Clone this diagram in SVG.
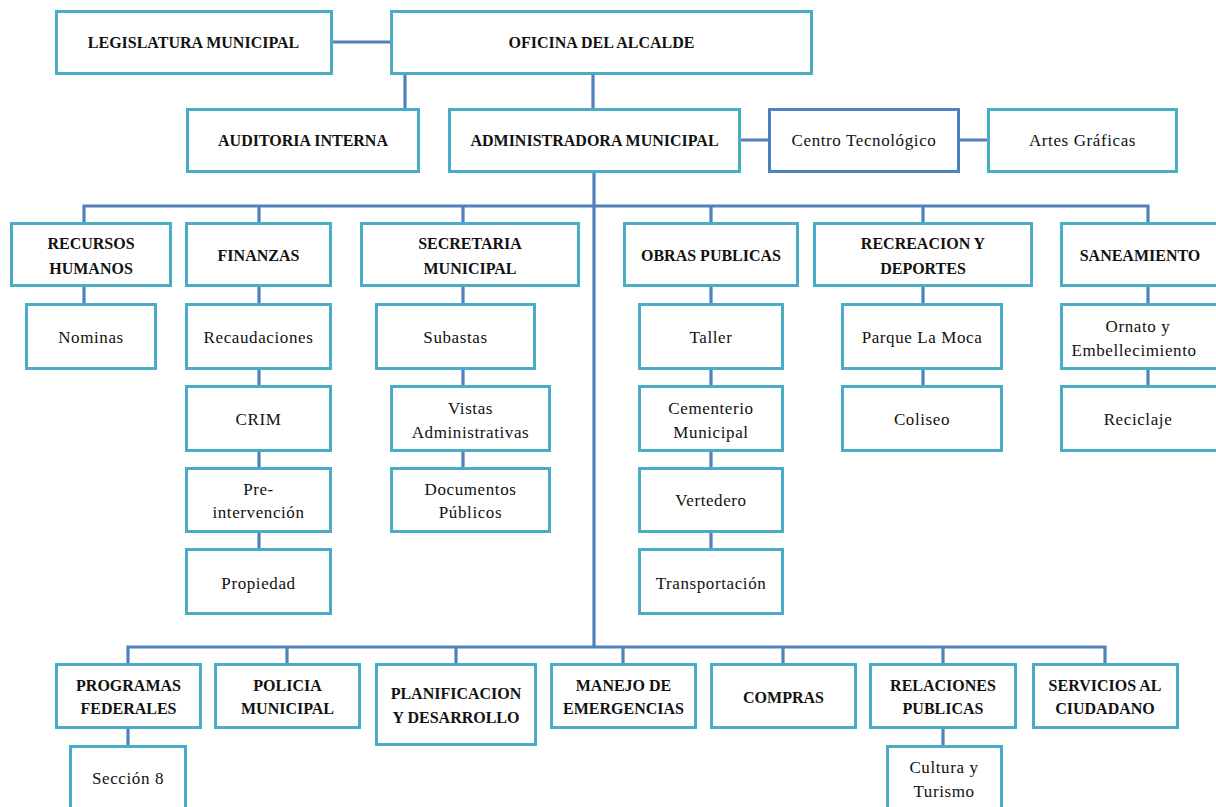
<svg xmlns="http://www.w3.org/2000/svg" width="1216" height="807" viewBox="0 0 1216 807">
<style>
rect{fill:#fff;stroke:#4BACC6;stroke-width:3}
rect.dk{stroke:#4F81BD}
.c path{fill:none;stroke:#4F81BD;stroke-width:3.2}
text{font-family:"Liberation Serif","DejaVu Serif",serif;fill:#111;text-anchor:middle;dominant-baseline:central}
.h{font-weight:bold;font-size:16px}
.r{font-size:17px;letter-spacing:0.6px}
</style>
<rect x="0" y="0" width="1216" height="807" style="fill:#fff;stroke:none"/>
<g class="c" id="connectors">
<path d="M332,42H390M405,75V108M593,75V108M741,140H768M960,140H987"/>
<path d="M594,173V647"/>
<path d="M84,222V206H1148V222M259,206V222M463,206V222M711,206V222M923,206V222"/>
<path d="M84,287V303M259,287V303M259,370V385M259,452V467M259,533V548"/>
<path d="M463,287V303M463,370V385M463,452V467"/>
<path d="M711,287V303M711,370V385M711,452V467M711,533V548"/>
<path d="M923,287V303M923,370V385M1148,287V303M1148,370V385"/>
<path d="M128,663V647H1105V663M287,647V663M456,647V663M623,647V663M783,647V663M943,647V663"/>
<path d="M128,729V745M943,729V745"/>
</g>
<g id="legislatura"><rect x="56.5" y="11.5" width="275" height="62"/><text class="h" x="193.5" y="42.5">LEGISLATURA MUNICIPAL</text></g>
<g id="oficina"><rect x="391.5" y="11.5" width="420" height="62"/><text class="h" x="601.5" y="42.5">OFICINA DEL ALCALDE</text></g>
<g id="auditoria"><rect x="187.5" y="109.5" width="231" height="62"/><text class="h" x="303" y="140.5">AUDITORIA INTERNA</text></g>
<g id="administradora"><rect x="449.5" y="109.5" width="290" height="62"/><text class="h" x="594.5" y="140.5">ADMINISTRADORA MUNICIPAL</text></g>
<g id="centro"><rect class="dk" x="769.5" y="109.5" width="189" height="62"/><text class="r" x="864" y="140.5">Centro Tecnológico</text></g>
<g id="artes"><rect x="988.5" y="109.5" width="188" height="62"/><text class="r" x="1082.5" y="140.5">Artes Gráficas</text></g>

<g id="rrhh"><rect x="11.5" y="223.5" width="159" height="62"/><text class="h" x="91" y="243">RECURSOS</text><text class="h" x="91" y="268">HUMANOS</text></g>
<g id="finanzas"><rect x="186.5" y="223.5" width="144" height="62"/><text class="h" x="258.5" y="255">FINANZAS</text></g>
<g id="secretaria"><rect x="361.5" y="223.5" width="217" height="62"/><text class="h" x="470" y="243">SECRETARIA</text><text class="h" x="470" y="268">MUNICIPAL</text></g>
<g id="obras"><rect x="624.5" y="223.5" width="173" height="62"/><text class="h" x="711" y="255">OBRAS PUBLICAS</text></g>
<g id="recreacion"><rect x="814.5" y="223.5" width="217" height="62"/><text class="h" x="923" y="243">RECREACION Y</text><text class="h" x="923" y="268">DEPORTES</text></g>
<g id="saneamiento"><rect x="1061.5" y="223.5" width="160" height="62"/><text class="h" x="1140" y="255">SANEAMIENTO</text></g>

<g id="nominas"><rect x="26.5" y="304.5" width="129" height="64"/><text class="r" x="91" y="337">Nominas</text></g>
<g id="recaudaciones"><rect x="186.5" y="304.5" width="144" height="64"/><text class="r" x="258.5" y="337">Recaudaciones</text></g>
<g id="crim"><rect x="186.5" y="386.5" width="144" height="64"/><text class="r" x="258.5" y="419">CRIM</text></g>
<g id="preintervencion"><rect x="186.5" y="468.5" width="144" height="63"/><text class="r" x="258.5" y="489">Pre-</text><text class="r" x="258.5" y="512">intervención</text></g>
<g id="propiedad"><rect x="186.5" y="549.5" width="144" height="64"/><text class="r" x="258.5" y="583">Propiedad</text></g>

<g id="subastas"><rect x="376.5" y="304.5" width="158" height="64"/><text class="r" x="455.5" y="337">Subastas</text></g>
<g id="vistas"><rect x="391.5" y="386.5" width="158" height="64"/><text class="r" x="470.5" y="408">Vistas</text><text class="r" x="470.5" y="432">Administrativas</text></g>
<g id="documentos"><rect x="391.5" y="468.5" width="158" height="63"/><text class="r" x="470.5" y="489">Documentos</text><text class="r" x="470.5" y="512">Públicos</text></g>

<g id="taller"><rect x="639.5" y="304.5" width="143" height="64"/><text class="r" x="711" y="337">Taller</text></g>
<g id="cementerio"><rect x="639.5" y="386.5" width="143" height="64"/><text class="r" x="711" y="408">Cementerio</text><text class="r" x="711" y="432">Municipal</text></g>
<g id="vertedero"><rect x="639.5" y="468.5" width="143" height="63"/><text class="r" x="711" y="500">Vertedero</text></g>
<g id="transportacion"><rect x="639.5" y="549.5" width="143" height="64"/><text class="r" x="711" y="583">Transportación</text></g>

<g id="parque"><rect x="842.5" y="304.5" width="159" height="64"/><text class="r" x="922" y="337">Parque La Moca</text></g>
<g id="coliseo"><rect x="842.5" y="386.5" width="159" height="64"/><text class="r" x="922" y="419">Coliseo</text></g>

<g id="ornato"><rect x="1061.5" y="304.5" width="160" height="64"/><text class="r" x="1138" y="326">Ornato y</text><text class="r" x="1134" y="350">Embellecimiento</text></g>
<g id="reciclaje"><rect x="1061.5" y="386.5" width="160" height="64"/><text class="r" x="1138" y="419">Reciclaje</text></g>

<g id="programas"><rect x="56.5" y="664.5" width="144" height="63"/><text class="h" x="128.5" y="685">PROGRAMAS</text><text class="h" x="128.5" y="708">FEDERALES</text></g>
<g id="seccion8"><rect x="70.5" y="746.5" width="115" height="70"/><text class="r" x="128" y="778">Sección 8</text></g>
<g id="policia"><rect x="215.5" y="664.5" width="144" height="63"/><text class="h" x="287.5" y="685">POLICIA</text><text class="h" x="287.5" y="708">MUNICIPAL</text></g>
<g id="planificacion"><rect x="376.5" y="664.5" width="159" height="80"/><text class="h" x="456" y="693">PLANIFICACION</text><text class="h" x="456" y="717">Y DESARROLLO</text></g>
<g id="manejo"><rect x="551.5" y="664.5" width="144" height="63"/><text class="h" x="623.5" y="685">MANEJO DE</text><text class="h" x="623.5" y="708">EMERGENCIAS</text></g>
<g id="compras"><rect x="711.5" y="664.5" width="144" height="63"/><text class="h" x="783.5" y="697">COMPRAS</text></g>
<g id="relaciones"><rect x="870.5" y="664.5" width="145" height="63"/><text class="h" x="943" y="685">RELACIONES</text><text class="h" x="943" y="708">PUBLICAS</text></g>
<g id="cultura"><rect x="887.5" y="746.5" width="114" height="70"/><text class="r" x="944" y="767">Cultura y</text><text class="r" x="944" y="791">Turismo</text></g>
<g id="servicios"><rect x="1033.5" y="664.5" width="144" height="63"/><text class="h" x="1105" y="685">SERVICIOS AL</text><text class="h" x="1105" y="708">CIUDADANO</text></g>
</svg>
